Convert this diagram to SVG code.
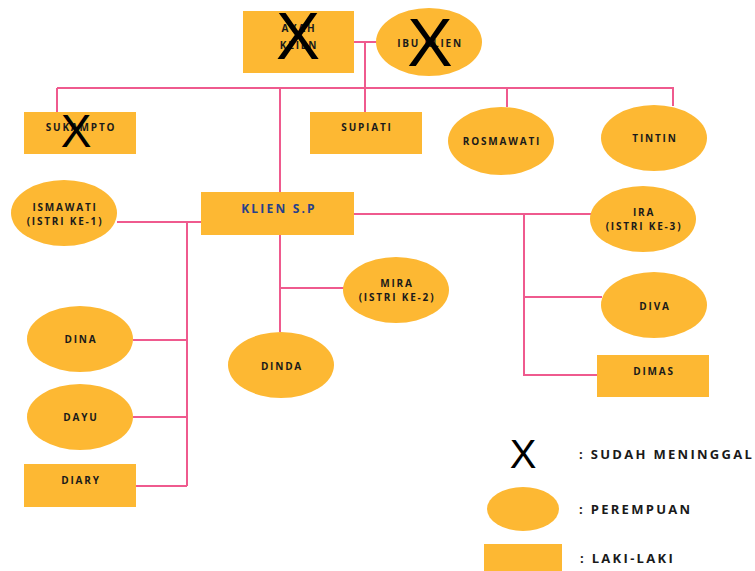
<svg xmlns="http://www.w3.org/2000/svg" width="755" height="571" viewBox="0 0 755 571">
<style>
.n{fill:#FDB833}
.t{font-family:"Open Sans","Liberation Sans",sans-serif;font-weight:700;font-size:10px;letter-spacing:1.8px;fill:#1a1a1a;text-anchor:middle;dominant-baseline:central}
.b{font-size:12px;letter-spacing:2.2px;fill:#27408b}
.l{font-family:"Open Sans","Liberation Sans",sans-serif;font-weight:700;font-size:13px;letter-spacing:2.3px;fill:#1a1a1a;dominant-baseline:central}
.x{font-family:"Liberation Sans","DejaVu Sans",sans-serif;fill:#000;text-anchor:middle;dominant-baseline:central}
.c{stroke:#EF5A8E;stroke-width:2;fill:none}
</style>
<rect width="755" height="571" fill="#fff"/>
<g id="connectors" class="c">
<path d="M354,42H377"/>
<path d="M365,42V88"/>
<path d="M57,88H674"/>
<path d="M57,88V112"/>
<path d="M280,88V192"/>
<path d="M365,88V112"/>
<path d="M507,88V107"/>
<path d="M673,88V106"/>
<path d="M117,222H201"/>
<path d="M187,222V486"/>
<path d="M133,340H187"/>
<path d="M133,417H187"/>
<path d="M136,486H187"/>
<path d="M280,235V332"/>
<path d="M280,288H344"/>
<path d="M354,214H591"/>
<path d="M524,214V375H597"/>
<path d="M524,297H602"/>
</g>
<g id="ayah"><rect class="n" x="243" y="11" width="111" height="62"/><text class="t" x="299" y="28">AYAH</text><text class="t" x="299" y="45">KLIEN</text><text class="x" x="298" y="36" font-size="66">X</text></g>
<g id="ibu"><ellipse class="n" cx="429" cy="42" rx="53" ry="34"/><text class="t" x="430" y="43">IBU KLIEN</text><text class="x" x="430" y="42" font-size="68">X</text></g>
<g id="sukampto"><rect class="n" x="24" y="112" width="112" height="42"/><text class="t" x="81" y="127">SUKAMPTO</text><text class="x" x="76" y="131" font-size="46">X</text></g>
<g id="supiati"><rect class="n" x="310" y="112" width="112" height="42"/><text class="t" x="367" y="127">SUPIATI</text></g>
<g id="rosmawati"><ellipse class="n" cx="501" cy="141" rx="53" ry="34"/><text class="t" x="502" y="141">ROSMAWATI</text></g>
<g id="tintin"><ellipse class="n" cx="654" cy="138" rx="53" ry="33"/><text class="t" x="655" y="138">TINTIN</text></g>
<g id="ismawati"><ellipse class="n" cx="64" cy="213" rx="53" ry="33"/><text class="t" x="65" y="207">ISMAWATI</text><text class="t" x="65" y="221">(ISTRI KE-1)</text></g>
<g id="klien"><rect class="n" x="201" y="192" width="153" height="43"/><text class="t b" x="279" y="208">KLIEN S.P</text></g>
<g id="ira"><ellipse class="n" cx="643" cy="219" rx="53" ry="33"/><text class="t" x="644" y="212">IRA</text><text class="t" x="644" y="226">(ISTRI KE-3)</text></g>
<g id="mira"><ellipse class="n" cx="396" cy="290" rx="53" ry="33"/><text class="t" x="397" y="283">MIRA</text><text class="t" x="397" y="297">(ISTRI KE-2)</text></g>
<g id="diva"><ellipse class="n" cx="654" cy="305" rx="53" ry="33"/><text class="t" x="655" y="306">DIVA</text></g>
<g id="dina"><ellipse class="n" cx="80" cy="339" rx="53" ry="33"/><text class="t" x="81" y="339">DINA</text></g>
<g id="dinda"><ellipse class="n" cx="281" cy="365" rx="53" ry="33"/><text class="t" x="282" y="366">DINDA</text></g>
<g id="dimas"><rect class="n" x="597" y="355" width="112" height="42"/><text class="t" x="654" y="371">DIMAS</text></g>
<g id="dayu"><ellipse class="n" cx="80" cy="417" rx="53" ry="33"/><text class="t" x="81" y="417">DAYU</text></g>
<g id="diary"><rect class="n" x="24" y="464" width="112" height="43"/><text class="t" x="81" y="480">DIARY</text></g>
<g id="legend">
<text class="x" x="523" y="454" font-size="40" font-weight="400">X</text>
<text class="l" x="579" y="454">: SUDAH MENINGGAL</text>
<ellipse class="n" cx="523" cy="509" rx="36" ry="22"/>
<text class="l" x="579" y="509">: PEREMPUAN</text>
<rect class="n" x="484" y="544" width="78" height="30"/>
<text class="l" x="580" y="558">: LAKI-LAKI</text>
</g>
</svg>
